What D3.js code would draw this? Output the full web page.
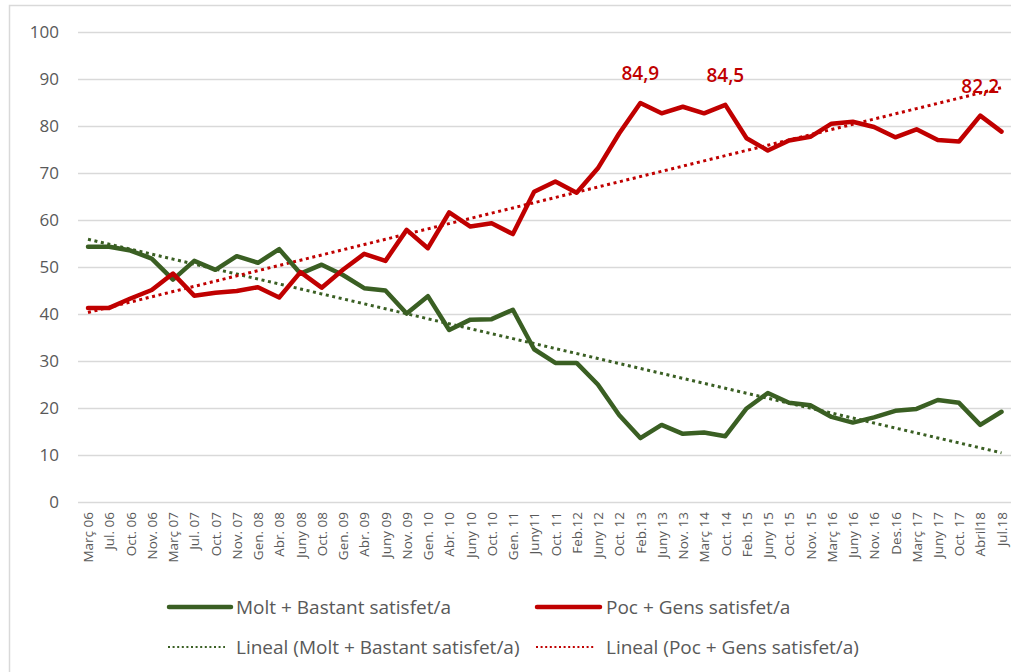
<!DOCTYPE html>
<html>
<head>
<meta charset="utf-8">
<script src="https://cdn.jsdelivr.net/npm/d3@7"></script>
<style>
  html, body { margin: 0; padding: 0; background: #fff; }
  svg { display: block; }
  text { font-family: "Open Sans", "Liberation Sans", sans-serif; fill: #595959; }
</style>
</head>
<body>
<svg id="chart" width="1011" height="672"></svg>
<script>
const categories = ["Març 06","Jul. 06","Oct. 06","Nov. 06","Març 07","Jul. 07","Oct. 07","Nov. 07","Gen. 08","Abr. 08","Juny 08","Oct. 08","Gen. 09","Abr. 09","Juny 09","Nov. 09","Gen. 10","Abr. 10","Juny 10","Oct. 10","Gen. 11","Juny11","Oct. 11","Feb.12","Juny 12","Oct. 12","Feb.13","Juny 13","Nov. 13","Març 14","Oct. 14","Feb. 15","Juny 15","Oct. 15","Nov. 15","Març 16","Juny 16","Nov. 16","Des.16","Març 17","Juny 17","Oct. 17","Abril18","Jul.18"];

const moltBastant = [54.3,54.3,53.5,51.8,47.3,51.3,49.4,52.3,50.9,53.8,48.6,50.5,48.3,45.5,45.0,40.1,43.8,36.6,38.8,38.9,40.9,32.5,29.6,29.6,25.0,18.5,13.6,16.4,14.5,14.8,14.0,19.9,23.2,21.1,20.6,18.1,16.9,18.0,19.4,19.8,21.7,21.1,16.4,19.2];

const pocGens = [41.3,41.3,43.3,45.1,48.6,43.9,44.5,44.9,45.7,43.5,48.9,45.6,49.4,52.8,51.3,57.9,54.0,61.6,58.6,59.3,57.0,66.0,68.2,65.8,71.0,78.4,84.9,82.7,84.1,82.7,84.5,77.4,74.8,76.9,77.7,80.5,80.9,79.8,77.6,79.3,77.0,76.7,82.2,78.8];

const yTicks = [0,10,20,30,40,50,60,70,80,90,100];
const labeledPoints = [{i: 26, text: "84,9"}, {i: 30, text: "84,5"}, {i: 42, text: "82,2"}];

const seriesNames = ["Molt + Bastant satisfet/a", "Poc + Gens satisfet/a"];
const trendNames = ["Lineal (Molt + Bastant satisfet/a)", "Lineal (Poc + Gens satisfet/a)"];
const colors = ["#3A5F23", "#C00000"];

const svg = d3.select("#chart");
const W = 1011, H = 672;

// chart border
svg.append("rect").attr("x", 9.5).attr("y", 5.5).attr("width", 1011).attr("height", 700)
  .attr("fill", "none").attr("stroke", "#D9D9D9").attr("stroke-width", 1.5);

const x = d3.scalePoint().domain(categories).range([88, 1001.5]);
const y = d3.scaleLinear().domain([0, 100]).range([502, 32]);

const g = svg.append("g");
// gridlines
g.selectAll("line.grid").data(yTicks).join("line")
  .attr("x1", 78).attr("x2", W).attr("y1", d => y(d) + 0.5).attr("y2", d => y(d) + 0.5)
  .attr("stroke", "#D9D9D9").attr("stroke-width", 1.3);

// y labels
const yAxis = d3.axisLeft(y).tickValues(yTicks).tickSize(0).tickPadding(0);
const ya = g.append("g").attr("transform", "translate(59,0)").call(yAxis);
ya.select(".domain").remove();
ya.selectAll("text").style("font-size", "17px").attr("fill", "#595959").attr("dy", "0.34em")
  .style("font-family", "'Open Sans', sans-serif");

// x labels
const xAxis = d3.axisBottom(x).tickSize(0).tickPadding(0);
const xa = g.append("g").attr("transform", "translate(0,502)").call(xAxis);
xa.select(".domain").remove();
xa.selectAll("text")
  .attr("transform", "rotate(-90)")
  .attr("text-anchor", "end")
  .attr("x", -10).attr("y", 0).attr("dy", "0.35em")
  .style("font-size", "13.5px").attr("fill", "#595959");

// regression trendline from data
function linreg(vals) {
  const xs = vals.map((_, i) => i + 1);
  const mx = d3.mean(xs), my = d3.mean(vals);
  let sxy = 0, sxx = 0;
  xs.forEach((xi, i) => { sxy += (xi - mx) * (vals[i] - my); sxx += (xi - mx) * (xi - mx); });
  const b = sxy / sxx, a = my - b * mx;
  return xs.map(xi => a + b * xi);
}

const line = d3.line().x((d, i) => x(categories[i])).y(d => y(d));

[moltBastant, pocGens].forEach((vals, k) => {
  g.append("path").datum(linreg(vals))
    .attr("d", line).attr("fill", "none").attr("stroke", colors[k])
    .attr("stroke-width", 3).attr("stroke-dasharray", "3,3.6");
});
[moltBastant, pocGens].forEach((vals, k) => {
  g.append("path").datum(vals)
    .attr("d", line).attr("fill", "none").attr("stroke", colors[k])
    .attr("stroke-width", 4.5).attr("stroke-linejoin", "round").attr("stroke-linecap", "round");
});

// data labels
g.selectAll("text.dl").data(labeledPoints).join("text")
  .attr("class", "dl")
  .attr("x", d => x(categories[d.i])).attr("y", d => y(pocGens[d.i]) - 23)
  .attr("text-anchor", "middle")
  .style("font-size", "19px").style("font-weight", "600").style("fill", "#C00000")
  .text(d => d.text);

// legend
const leg = svg.append("g");
const rows = [
  {x1: 169, x2: 231, tx: 236, ty: 607, color: colors[0], dash: null, text: seriesNames[0]},
  {x1: 537, x2: 600, tx: 606, ty: 607, color: colors[1], dash: null, text: seriesNames[1]},
  {x1: 168, x2: 225, tx: 236, ty: 647, color: colors[0], dash: "2,2.6", text: trendNames[0]},
  {x1: 536, x2: 595, tx: 606, ty: 647, color: colors[1], dash: "2,2.6", text: trendNames[1]}
];
rows.forEach(r => {
  leg.append("line").attr("x1", r.x1).attr("x2", r.x2).attr("y1", r.ty).attr("y2", r.ty)
    .attr("stroke", r.color).attr("stroke-width", r.dash ? 2.2 : 4.5)
    .attr("stroke-linecap", r.dash ? "butt" : "round")
    .attr("stroke-dasharray", r.dash);
  leg.append("text").attr("x", r.tx).attr("y", r.ty).attr("dy", "0.35em")
    .style("font-size", "19px").text(r.text);
});
</script>
</body>
</html>
